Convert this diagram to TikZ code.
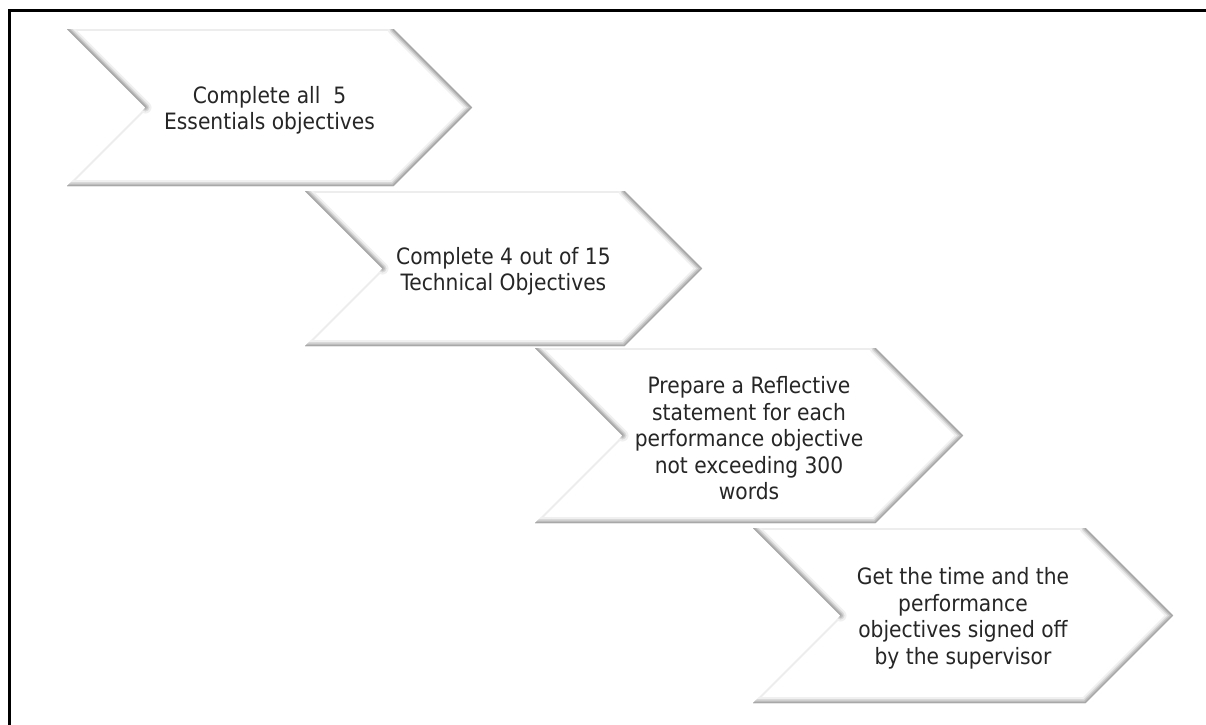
\documentclass[tikz,border=0pt]{standalone}
\usepackage{fontspec}
\setmainfont{DejaVu Sans Condensed}
\usepackage{tikz}
\usetikzlibrary{calc}
\usetikzlibrary{positioning}

\tikzset{
  steptext/.style = {draw = none, align = center, inner sep = 1,
    text = black!85, font = \fontsize{22.5}{26.5}\selectfont},
  frameline/.style = {line width = 3, draw = black},
  bevel dark/.style = {line cap = round},
  bevel light/.style = {line width = 4, draw = gray!14}
}

\begin{document}
\begin{tikzpicture}[x = 1pt, y = -1pt]
\useasboundingbox (0, 0) rectangle (1206, 724);
\fill [white] (0, 0) rectangle (1206, 724);
% frame (only top and left sides are visible)
\coordinate (fbl) at (9.5, 730);
\coordinate (ftl) at (9.5, 10.5);
\coordinate (ftr) at (1212, 10.5);
\draw [frameline] (fbl) -- (ftl) -- (ftr);
% chevrons: name / left / top / width / height / text
\foreach \n/\cx/\cy/\cw/\ch/\txt in {
  s1/67/29/405/157/{Complete all~ 5\\Essentials objectives},
  s2/305/191/397/155/{Complete 4 out of 15\\Technical Objectives},
  s3/535/348/428/175/{Prepare a Reflective\\statement for each\\performance objective\\not exceeding 300\\words},
  s4/753/528/420/175/{Get the time and the\\performance\\objectives signed off\\by the supervisor}}{
  \pgfmathsetmacro\cd{\ch/2}
  \coordinate (\n-tl) at (\cx, \cy);
  \coordinate (\n-tr) at ({\cx+\cw-\cd}, \cy);
  \coordinate (\n-tip) at ({\cx+\cw}, {\cy+\cd});
  \coordinate (\n-br) at ({\cx+\cw-\cd}, {\cy+\ch});
  \coordinate (\n-bl) at (\cx, {\cy+\ch});
  \coordinate (\n-notch) at ({\cx+\cd}, {\cy+\cd});
  \begin{scope}
    \clip (\n-tl) -- (\n-tr) -- (\n-tip) -- (\n-br) -- (\n-bl) -- (\n-notch) -- cycle;
    \fill [white] (\n-tl) -- (\n-tr) -- (\n-tip) -- (\n-br) -- (\n-bl) -- (\n-notch) -- cycle;
    % light edges
    \draw [bevel light] (\n-bl) -- (\n-notch);
    \draw [bevel light] (\n-tl) -- (\n-tr);
    % shaded edges
    \draw [bevel dark, line width = 12, gray!12] (\n-tl) -- (\n-notch) (\n-tr) -- (\n-tip) -- (\n-br) -- (\n-bl);
    \draw [bevel dark, line width = 8, gray!30] (\n-tl) -- (\n-notch) (\n-tr) -- (\n-tip) -- (\n-br) -- (\n-bl);
    \draw [bevel dark, line width = 5, gray!50] (\n-tl) -- (\n-notch) (\n-tr) -- (\n-tip) -- (\n-br) -- (\n-bl);
    \draw [bevel dark, line width = 2.5, gray!68] (\n-tl) -- (\n-notch) (\n-tr) -- (\n-tip) -- (\n-br) -- (\n-bl);
  \end{scope}
  \node [steptext] (\n) at ({\cx+\cw/2}, {\cy+\cd+3}) {\txt};
}
\end{tikzpicture}
\end{document}
